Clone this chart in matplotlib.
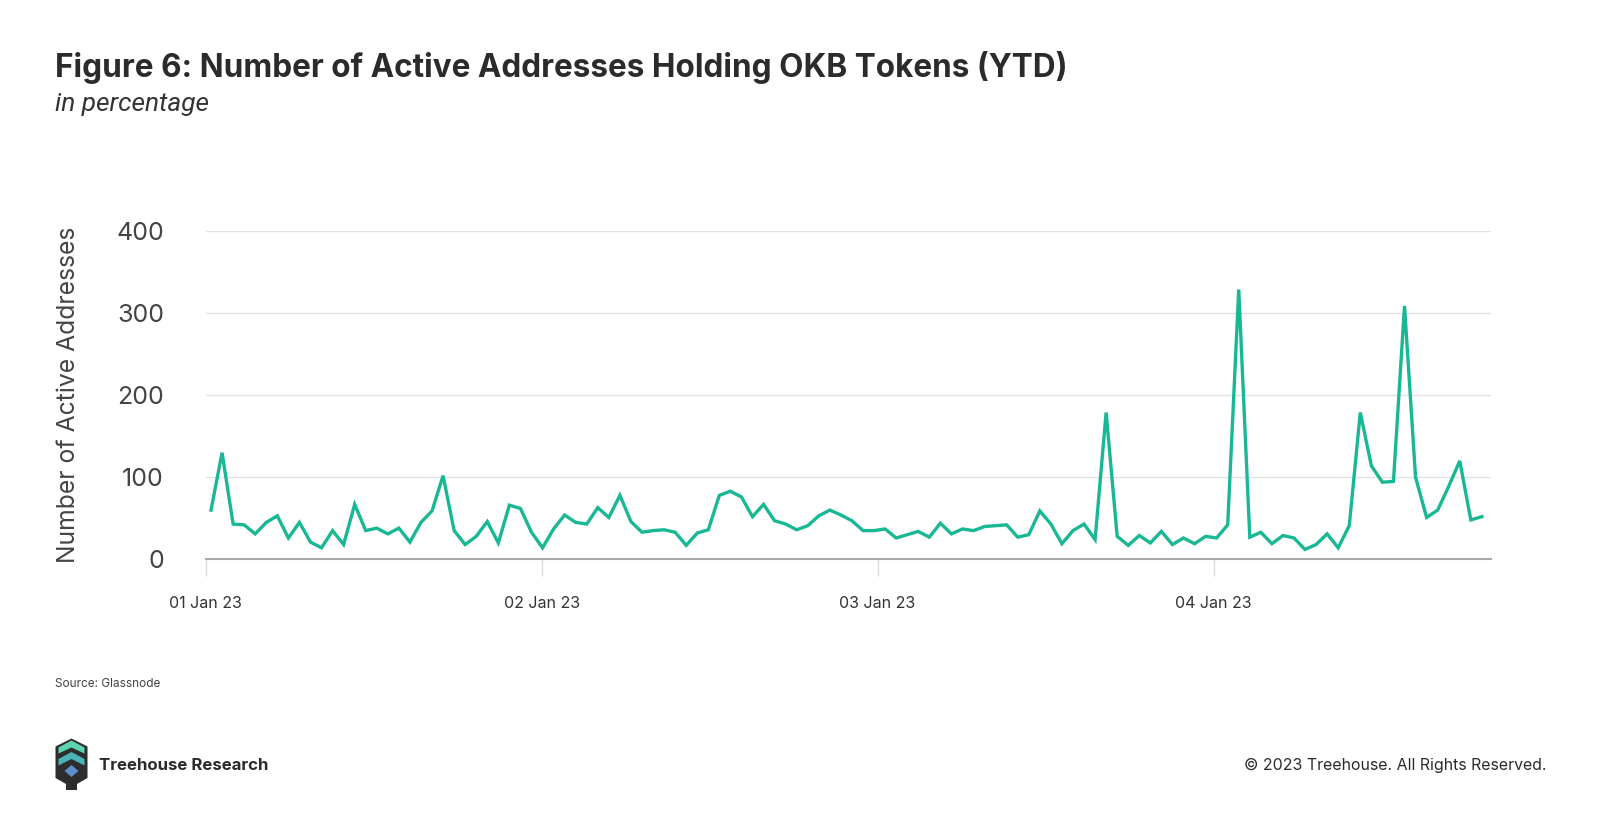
"""Active addresses holding OKB tokens (YTD), Treehouse style chart."""

import matplotlib

matplotlib.use("Agg")
import matplotlib.pyplot as plt  # noqa:E402
from matplotlib.patches import Polygon  # noqa:E402

W, H = 1600, 831

# Daily active addresses
active_addresses = [
    60, 130, 43, 42, 31, 45, 53, 26, 45, 21, 14, 35, 18, 67, 35,
    38, 31, 38, 21, 45, 59, 102, 35, 18, 28, 46, 20, 66, 62, 33,
    14, 37, 54, 45, 43, 63, 51, 78, 46, 33, 35, 36, 33, 17, 32,
    36, 78, 83, 76, 52, 67, 47, 43, 36, 41, 53, 60, 54, 47, 35,
    35, 37, 26, 30, 34, 27, 44, 31, 37, 35, 40, 41, 42, 27, 30,
    59, 43, 19, 35, 43, 24, 179, 28, 17, 29, 20, 34, 18, 26, 19,
    28, 26, 42, 329, 27, 33, 19, 29, 26, 12, 18, 31, 14, 41, 179,
    114, 94, 95, 309, 100, 51, 60, 89, 120, 48, 52,
]
tick_labels = ["01 Jan 23", "02 Jan 23", "03 Jan 23", "04 Jan 23"]
y_ticks = [0, 100, 200, 300, 400]

LINE = "#19b894"
FONT = "Inter"


def fx(px):
    return px / W


def fy(py):
    return 1 - py / H


fig = plt.figure(figsize=(W / 100, H / 100), dpi=100)
fig.patch.set_facecolor("white")

ax_l, ax_r = 205.7, 1490.7
ax = fig.add_axes([fx(ax_l), fy(559.3), fx(ax_r) - fx(ax_l), fy(231.3) - fy(559.3)])
x = list(range(len(active_addresses)))
ax.plot(x, active_addresses, color=LINE, linewidth=2.4, solid_joinstyle="miter", zorder=3)

step = 30.4
tick_pos = [-0.48 + step * k for k in range(len(tick_labels))]
ax.set_xlim(-0.48, 115.8)
ax.set_ylim(0, 400)
ax.set_xticks(tick_pos)
ax.set_xticklabels(tick_labels, fontsize=11.5, color="#333333", family=FONT)
ax.set_yticks(y_ticks)
ax.set_yticklabels([str(t) for t in y_ticks], fontsize=18, color="#444444", family=FONT)
ax.tick_params(axis="x", length=12.5, width=1, color="#dddddd", pad=14)
ax.tick_params(axis="y", length=0, pad=30)
ax.yaxis.grid(True, color="#e2e2e2", linewidth=1)
ax.set_axisbelow(True)
for side in ["top", "right", "left"]:
    ax.spines[side].set_visible(False)
ax.spines["bottom"].set_color("#aaaaaa")
ax.spines["bottom"].set_linewidth(1.5)
ax.spines["bottom"].set_zorder(4)
ax.set_ylabel("Number of Active Addresses", fontsize=17.8, color="#444444", family=FONT)
ax.yaxis.set_label_coords((80 - ax_l) / (ax_r - ax_l), 0.5)

# titles and footer
fig.text(fx(55), fy(67), "Figure 6: Number of Active Addresses Holding OKB Tokens (YTD)",
         fontsize=22.7, fontweight="bold", color="#2b2b2b", family=FONT, va="center")
fig.text(fx(55), fy(104), "in percentage", fontsize=18.9, style="italic",
         color="#333333", family="Roboto", va="center")
fig.text(fx(55), fy(684), "Source: Glassnode", fontsize=8.5, color="#444444",
         family=FONT, va="center")
fig.text(fx(99), fy(766), "Treehouse Research", fontsize=12.1, fontweight="bold",
         color="#2b2b2b", family=FONT, va="center")
fig.text(fx(1546), fy(765), "\u00a9 2023 Treehouse. All Rights Reserved.", fontsize=11.45,
         color="#2b2b2b", family=FONT, va="center", ha="right")

# logo drawn in figure pixels
logo = fig.add_axes([0, 0, 1, 1], zorder=5)
logo.set_xlim(0, W)
logo.set_ylim(H, 0)
logo.axis("off")
cx = 71.5
shapes = [
    ([(cx, 738.5), (cx + 16, 746.5), (cx + 16, 778), (cx + 5.5, 784), (cx + 5.5, 790),
      (cx - 5.5, 790), (cx - 5.5, 784), (cx - 16, 778), (cx - 16, 746.5)], "#2d2d2d"),
    ([(cx, 740.5), (cx + 13, 747.5), (cx + 13, 753.5), (cx, 747.5), (cx - 13, 753.5),
      (cx - 13, 747.5)], "#5fd4b4"),
    ([(cx, 752), (cx + 13, 759), (cx + 13, 765.5), (cx, 759), (cx - 13, 765.5),
      (cx - 13, 759)], "#4bb3b6"),
    ([(cx, 765), (cx + 7, 771), (cx, 777), (cx - 7, 771)], "#5a8fcb"),
]
for pts, col in shapes:
    logo.add_patch(Polygon(pts, closed=True, facecolor=col, edgecolor="none"))

fig.savefig("out.png", dpi=100)
